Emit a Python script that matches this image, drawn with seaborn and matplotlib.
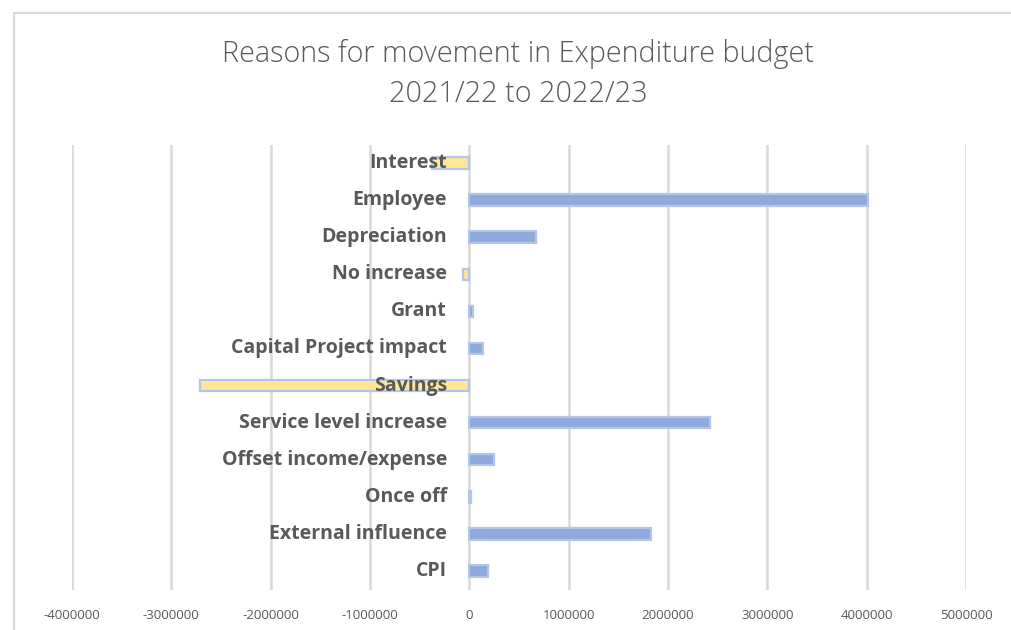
import matplotlib
matplotlib.use("Agg")
import matplotlib.pyplot as plt
import seaborn as sns
import pandas as pd
from matplotlib.patches import Rectangle

categories = [
    "Interest", "Employee", "Depreciation", "No increase", "Grant",
    "Capital Project impact", "Savings", "Service level increase",
    "Offset income/expense", "Once off", "External influence", "CPI",
]
values = [
    -380000, 4010000, 675000, -60000, 40000,
    140000, -2710000, 2420000, 250000, 20000, 1830000, 190000,
]
x_ticks = [-4000000, -3000000, -2000000, -1000000, 0,
           1000000, 2000000, 3000000, 4000000, 5000000]

POS_FILL = "#8EA9DB"
NEG_FILL = "#FFE699"
EDGE = "#B4C6E7"
GRID = "#D9D9D9"
TEXT = "#595959"

df = pd.DataFrame({"reason": categories, "amount": values})
bar_colors = [NEG_FILL if v < 0 else POS_FILL for v in values]

sns.set_theme(style="white")
plt.rcParams["font.family"] = ["Open Sans", "DejaVu Sans"]

fig = plt.figure(figsize=(10.11, 6.3), dpi=100)
ax = fig.add_axes([72 / 1011, 1 - 589.5 / 630, 894 / 1011, 445 / 630])

sns.barplot(data=df, x="amount", y="reason", hue="reason",
            palette=bar_colors, saturation=1, legend=False, orient="h",
            width=0.31, ax=ax, zorder=2)
for p in ax.patches:
    p.set_edgecolor(EDGE)
    p.set_linewidth(1.6)

ax.set_xlim(x_ticks[0], x_ticks[-1])
ax.set_ylim(len(categories) - 0.5, -0.5)
ax.set_xticks(x_ticks)
ax.set_xticklabels([str(t) for t in x_ticks], fontsize=9.5, color=TEXT)
ax.tick_params(axis="x", length=0, pad=14)
ax.set_yticks([])
ax.set_xlabel("")
ax.set_ylabel("")
for s in ax.spines.values():
    s.set_visible(False)
for t in x_ticks:
    ax.axvline(t, color=GRID, lw=1.8, zorder=1)

# category labels sit just left of the zero line, above the bars
for i, name in enumerate(categories):
    ax.annotate(name, xy=(0, i), xytext=(-16, 0), textcoords="offset points",
                ha="right", va="center", fontsize=14, fontweight="bold",
                color=TEXT, zorder=5)

fig.text(518 / 1011, 1 - 74 / 630,
         "Reasons for movement in Expenditure budget\n2021/22 to 2022/23",
         ha="center", va="center", fontsize=20.7, color=TEXT,
         linespacing=1.45, fontweight="light")

# chart area border
fig.patches.append(Rectangle((14 / 1011, -0.1), 1.2, (1 - 13 / 630) + 0.1,
                             transform=fig.transFigure, fill=False,
                             edgecolor=GRID, lw=1.5))

fig.savefig("out.png", dpi=100)
